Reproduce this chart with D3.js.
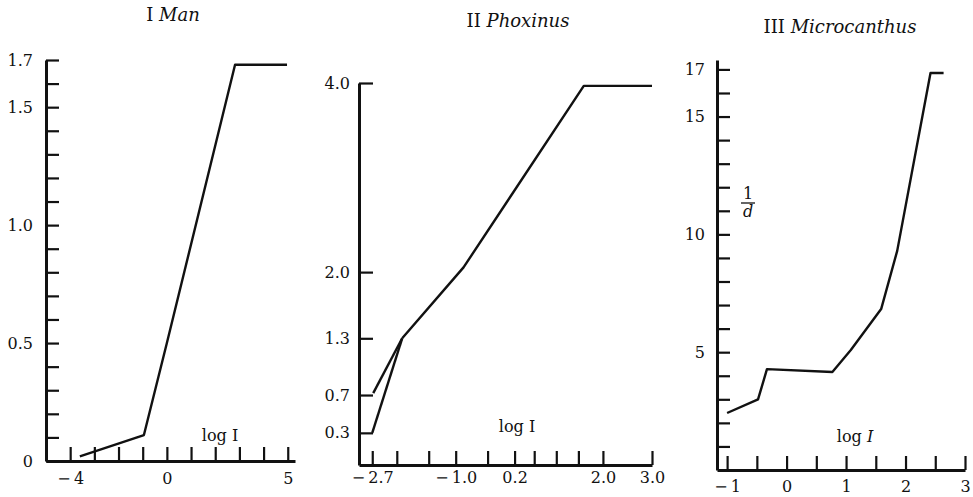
<!DOCTYPE html>
<html>
<head>
<meta charset="utf-8">
<script src="https://cdn.jsdelivr.net/npm/d3@7"></script>
<style>
  body { margin: 0; background: #fff; }
  svg text { font-family: "DejaVu Serif", "Liberation Serif", serif; fill: #111; }
</style>
</head>
<body>
<svg id="chart" width="973" height="497"></svg>
<script>
// --- panel I : Man
const manX = [-3.6, -0.95, 0.0, 2.82, 4.97];
const manY = [0.02, 0.11, 0.5, 1.68, 1.68];
const manXTicks = [-4, -3, -2, -1, 0, 1, 2, 3, 4, 5];
const manXLabels = [-4, 0, 5];
const manYTicks = [0, 0.1, 0.2, 0.3, 0.4, 0.5, 0.6, 0.7, 0.8, 0.9, 1.0, 1.1, 1.2, 1.3, 1.4, 1.5, 1.6, 1.7];
const manYLabels = [0, 0.5, 1.0, 1.5, 1.7];

// --- panel II : Phoxinus (two starting branches meet, then one line)
const phoxUpperX = [-2.68, -2.09];
const phoxUpperY = [0.72, 1.3];
const phoxLowerX = [-2.7, -2.09];
const phoxLowerY = [0.3, 1.3];
const phoxMainX = [-2.09, -0.84, 1.61, 3.0];
const phoxMainY = [1.3, 2.05, 3.97, 3.97];
const phoxXTicks = [-2.7, -2.2, -1.55, -1.0, -0.35, 0.2, 0.6, 1.05, 1.5, 2.0, 3.0];
const phoxXLabels = [-2.7, -1.0, 0.2, 2.0, 3.0];
const phoxYTicks = [0.3, 0.7, 1.3, 2.0, 4.0];
const phoxYLabels = [0.3, 0.7, 1.3, 2.0, 4.0];

// --- panel III : Microcanthus
const microX = [-1.0, -0.48, -0.33, 0.77, 1.08, 1.59, 1.86, 2.42, 2.64];
const microY = [2.42, 3.0, 4.28, 4.16, 5.09, 6.83, 9.3, 16.85, 16.85];
const microXTicks = [-1, -0.5, 0, 0.5, 1, 1.5, 2, 2.5, 3];
const microXLabels = [-1, 0, 1, 2, 3];
const microYTicks = [1, 2, 3, 4, 5, 6, 7, 8, 9, 10, 11, 12, 13, 14, 15, 16, 17];
const microYLabels = [5, 10, 15, 17];

const svg = d3.select('#chart');
svg.append('rect').attr('width', 973).attr('height', 497).attr('fill', '#fff');

function fmt(labels, digits) {
  return function(d) {
    if (!labels.some(function(l) { return Math.abs(l - d) < 1e-9; })) return '';
    if (d === 0) return '0';
    let s = digits ? d3.format('.' + digits + 'f')(Math.abs(d)) : String(Math.abs(d));
    return d < 0 ? '\u2212\u2009' + s : s;
  };
}

function panel(p) {
  let x = d3.scaleLinear().domain(p.xDomain).range(p.xRange);
  let y = d3.scaleLinear().domain(p.yDomain).range(p.yRange);
  let g = svg.append('g');

  let xAxis = d3.axisBottom(x)
      .tickValues(p.xTicks)
      .tickSizeInner(-14)
      .tickSizeOuter(0)
      .tickPadding(p.xPad)
      .tickFormat(fmt(p.xLabels, p.xDigits));
  let yAxis = d3.axisLeft(y)
      .tickValues(p.yTicks)
      .tickSizeInner(-p.yTickLen)
      .tickSizeOuter(0)
      .tickPadding(p.yPad)
      .tickFormat(fmt(p.yLabels, p.yDigits));

  let gx = g.append('g')
      .attr('transform', 'translate(0,' + p.yRange[0] + ')')
      .call(xAxis);
  let gy = g.append('g')
      .attr('transform', 'translate(' + p.xRange[0] + ',0)')
      .call(yAxis);

  [gx, gy].forEach(function(a) {
    a.select('.domain').attr('stroke', '#111').attr('stroke-width', 3);
    a.selectAll('.tick line').attr('stroke', '#111').attr('stroke-width', 2.2);
    a.selectAll('.tick text').attr('font-size', 16).attr('fill', '#111');
  });

  let line = d3.line()
      .x(function(d) { return x(d[0]); })
      .y(function(d) { return y(d[1]); });

  p.series.forEach(function(s) {
    g.append('path')
        .datum(d3.zip(s[0], s[1]))
        .attr('d', line)
        .attr('fill', 'none')
        .attr('stroke', '#111')
        .attr('stroke-width', 2.4)
        .attr('stroke-linejoin', 'round');
  });

  let t = g.append('text')
      .attr('x', p.title[2]).attr('y', p.title[3])
      .attr('text-anchor', 'middle')
      .attr('font-size', 18);
  t.append('tspan').text(p.title[0] + ' ');
  t.append('tspan').attr('font-style', 'italic').text(p.title[1]);

  let lg = g.append('text')
      .attr('x', p.logI[0]).attr('y', p.logI[1])
      .attr('text-anchor', 'middle')
      .attr('font-size', 16);
  lg.append('tspan').text('log ');
  lg.append('tspan').attr('font-style', p.logI[2] ? 'italic' : 'normal').text('I');

  return { x: x, y: y, g: g };
}

panel({
  xDomain: [-5, 5.3], xRange: [46, 295],
  yDomain: [0, 1.7], yRange: [461, 60],
  xTicks: manXTicks, xLabels: manXLabels, xDigits: 0, xPad: 12,
  yTicks: manYTicks, yLabels: manYLabels, yDigits: 1, yPad: 13, yTickLen: 13,
  series: [[manX, manY]],
  title: ['I', 'Man', 173, 21],
  logI: [220, 441, false]
});

panel({
  xDomain: [-2.97, 3.0], xRange: [359, 652],
  yDomain: [-0.04, 4.0], yRange: [465, 83],
  xTicks: phoxXTicks, xLabels: phoxXLabels, xDigits: 1, xPad: 7,
  yTicks: phoxYTicks, yLabels: phoxYLabels, yDigits: 1, yPad: 9, yTickLen: 14,
  series: [[phoxUpperX, phoxUpperY], [phoxLowerX, phoxLowerY], [phoxMainX, phoxMainY]],
  title: ['II', 'Phoxinus', 518, 27],
  logI: [517, 432, false]
});

let m = panel({
  xDomain: [-1.17, 3.0], xRange: [717, 965],
  yDomain: [0, 17.4], yRange: [470, 60],
  xTicks: microXTicks, xLabels: microXLabels, xDigits: 0, xPad: 11,
  yTicks: microYTicks, yLabels: microYLabels, yDigits: 0, yPad: 12, yTickLen: 13,
  series: [[microX, microY]],
  title: ['III', 'Microcanthus', 840, 33],
  logI: [855, 442, true]
});

// 1/d label on panel III
m.g.append('text').attr('x', 748).attr('y', 199).attr('text-anchor', 'middle')
    .attr('font-size', 16).text('1');
m.g.append('line').attr('x1', 741).attr('x2', 755).attr('y1', 203).attr('y2', 203)
    .attr('stroke', '#111').attr('stroke-width', 1.3);
m.g.append('text').attr('x', 748).attr('y', 217).attr('text-anchor', 'middle')
    .attr('font-size', 16).attr('font-style', 'italic').text('d');
</script>
</body>
</html>
